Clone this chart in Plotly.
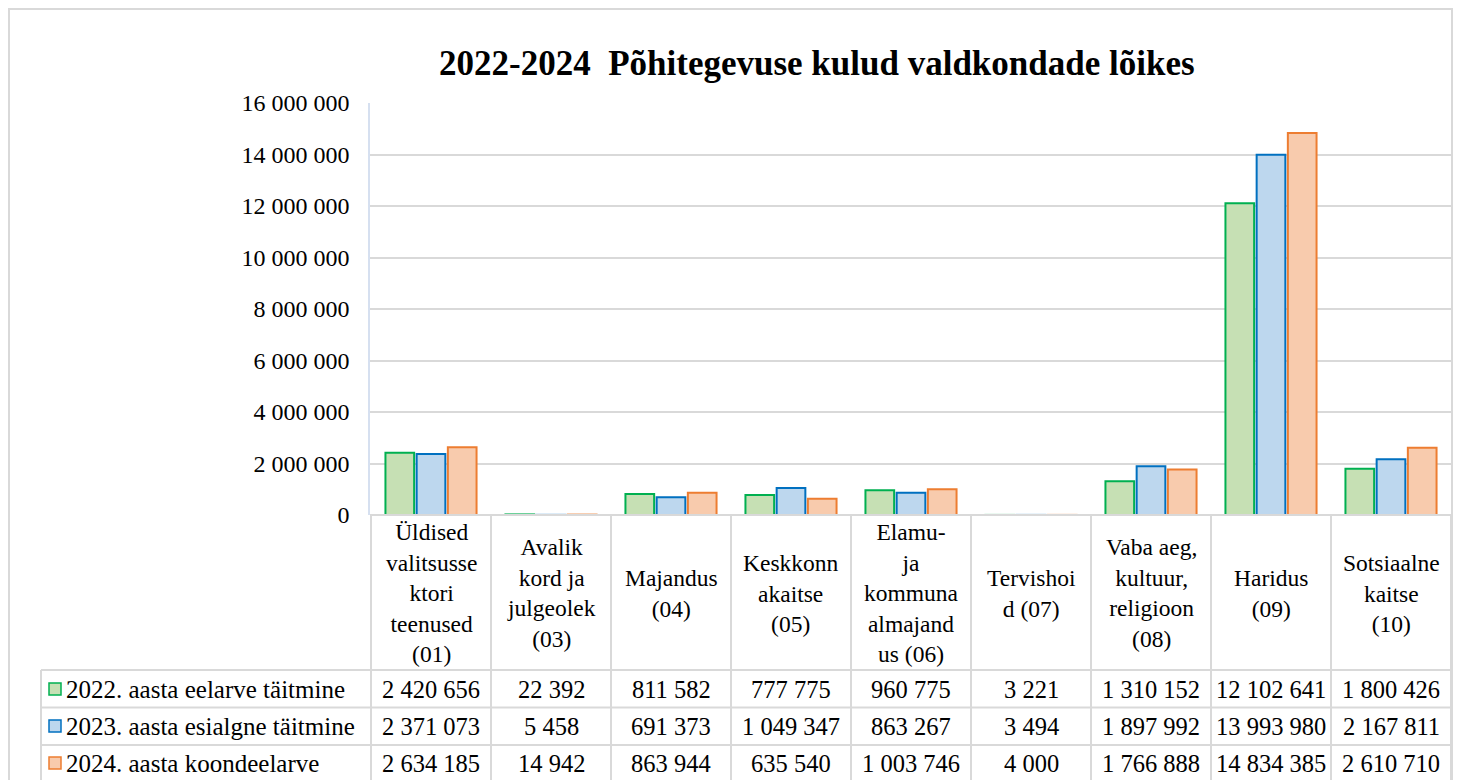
import plotly.graph_objects as go

# ---------------- data ----------------
categories = ["Üldised (01)", "Avalik kord (03)", "Majandus (04)", "Keskkonnakaitse (05)",
              "Elamu (06)", "Tervishoid (07)", "Vaba aeg (08)", "Haridus (09)", "Sotsiaalne (10)"]
category_labels = [
    "Üldised<br>valitsusse<br>ktori<br>teenused<br>(01)",
    "Avalik<br>kord ja<br>julgeolek<br>(03)",
    "Majandus<br>(04)",
    "Keskkonn<br>akaitse<br>(05)",
    "Elamu-<br>ja<br>kommuna<br>almajand<br>us (06)",
    "Tervishoi<br>d (07)",
    "Vaba aeg,<br>kultuur,<br>religioon<br>(08)",
    "Haridus<br>(09)",
    "Sotsiaalne<br>kaitse<br>(10)",
]
series_names = [
    "2022. aasta eelarve täitmine",
    "2023. aasta esialgne täitmine",
    "2024. aasta koondeelarve",
]
values_2022 = [2420656, 22392, 811582, 777775, 960775, 3221, 1310152, 12102641, 1800426]
values_2023 = [2371073, 5458, 691373, 1049347, 863267, 3494, 1897992, 13993980, 2167811]
values_2024 = [2634185, 14942, 863944, 635540, 1003746, 4000, 1766888, 14834385, 2610710]
y_ticks = [0, 2000000, 4000000, 6000000, 8000000, 10000000, 12000000, 14000000, 16000000]
title_text = "2022-2024  Põhitegevuse kulud valdkondade lõikes"

# ---------------- styles ----------------
fills = ["#C6E0B4", "#BDD7EE", "#F8CBAD"]
borders = ["#00B050", "#0070C0", "#ED7D31"]
FONT = "Liberation Serif"
GRID = "#D9D9D9"

OFF = 8  # page offset of the figure inside the browser window
W, H = 1464 - OFF, 780 - OFF
ML, MR, MT, MB = 370 - OFF, 12, 103 - OFF, 265
PW, PH = W - ML - MR, H - MT - MB


def px(x):  # x given in window pixels
    return (x - OFF - ML) / PW


def py(y):  # y given in window pixels
    return (H - MB - (y - OFF)) / PH


all_series = [values_2022, values_2023, values_2024]

fig = go.Figure()
for name, vals, f, b in zip(series_names, all_series, fills, borders):
    fig.add_trace(go.Bar(
        x=categories, y=vals, name=name,
        marker=dict(color=f, line=dict(color=b, width=2)),
        showlegend=False,
    ))

shapes = []
ann = []

# outer chart border
shapes.append(dict(type="rect", xref="paper", yref="paper",
                   x0=px(9), x1=px(1452), y0=py(800), y1=py(9),
                   line=dict(color=GRID, width=2), layer="below"))

# table horizontal lines
for yy in [670, 707.5, 745]:
    shapes.append(dict(type="line", xref="paper", yref="paper",
                       x0=px(41), x1=1, y0=py(yy), y1=py(yy),
                       line=dict(color=GRID, width=2)))
# bottom of plot (axis line)
shapes.append(dict(type="line", xref="paper", yref="paper",
                   x0=0, x1=1, y0=0, y1=0, line=dict(color=GRID, width=2)))
# legend column left line
shapes.append(dict(type="line", xref="paper", yref="paper",
                   x0=px(41), x1=px(41), y0=py(670), y1=py(800),
                   line=dict(color=GRID, width=2)))
# category column lines
for k in range(len(categories) + 1):
    shapes.append(dict(type="line", xref="x", yref="paper",
                       x0=k - 0.5, x1=k - 0.5, y0=0, y1=py(800),
                       line=dict(color=GRID, width=2)))

# category header labels
for cat, lab in zip(categories, category_labels):
    ann.append(dict(x=cat, xref="x", y=py(593), yref="paper", text=lab,
                    showarrow=False, xanchor="center", yanchor="middle",
                    align="center", font=dict(family=FONT, size=23.5, color="#000")))

# table rows
row_centers = [689, 726, 763]
for r, (name, vals) in enumerate(zip(series_names, all_series)):
    yc = row_centers[r]
    shapes.append(dict(type="rect", xref="paper", yref="paper",
                       x0=px(49), x1=px(61), y0=py(yc + 6), y1=py(yc - 6),
                       fillcolor=fills[r], line=dict(color=borders[r], width=1.5)))
    ann.append(dict(x=px(64), xref="paper", y=py(yc), yref="paper", text=name,
                    showarrow=False, xanchor="left", yanchor="middle",
                    font=dict(family=FONT, size=25, color="#000")))
    for cat, v in zip(categories, vals):
        ann.append(dict(x=cat, xref="x", y=py(yc), yref="paper",
                        text=f"{v:,}".replace(",", " "),
                        showarrow=False, xanchor="center", yanchor="middle",
                        font=dict(family=FONT, size=24.5, color="#000")))

# title
ann.append(dict(x=px(816.5), xref="paper", y=py(63), yref="paper",
                text=f"<b>{title_text}</b>", showarrow=False,
                xanchor="center", yanchor="middle",
                font=dict(family=FONT, size=35, color="#000")))

fig.update_layout(
    width=W, height=H,
    margin=dict(l=ML, r=MR, t=MT, b=MB, pad=0),
    paper_bgcolor="white", plot_bgcolor="white",
    barmode="group", bargap=0.22, bargroupgap=0.08,
    separators=". ",
    shapes=shapes, annotations=ann,
    font=dict(family=FONT, color="#000"),
)
fig.update_xaxes(type="category", showticklabels=False, showgrid=False, zeroline=False,
                 showline=False, ticks="")
fig.update_yaxes(range=[0, 16000000], tickvals=y_ticks, tickformat=",d",
                 showgrid=True, gridcolor=GRID, gridwidth=1.5,
                 zeroline=False, showline=True, linecolor="#D6E0F0", linewidth=1.5,
                 ticks="", ticklabelstandoff=14,
                 tickfont=dict(family=FONT, size=24, color="#000"))

fig.write_html("out.html")
